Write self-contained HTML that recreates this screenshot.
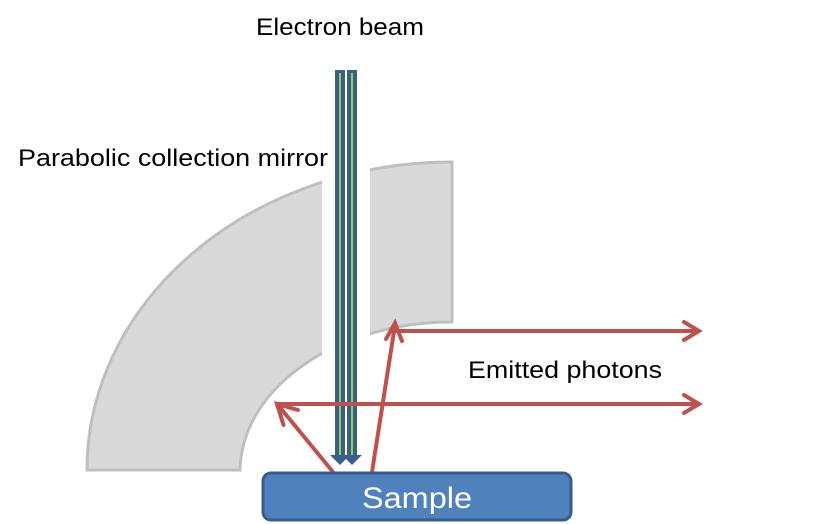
<!DOCTYPE html>
<html><head><meta charset="utf-8"><style>
body{margin:0;background:#fff}
svg{display:block}
text{font-family:"Liberation Sans",sans-serif}
</style></head><body>
<svg width="819" height="524" viewBox="0 0 819 524">
<defs>
<clipPath id="gap"><path d="M0 0H322V524H0Z M370 0H819V524H370Z"/></clipPath>
</defs>
<g clip-path="url(#gap)">
<path d="M87 470 A365 308 0 0 1 452 162 L452 322 A212 150 0 0 0 240 470 Z" fill="#d9d9d9" stroke="#bfbfbf" stroke-width="3"/>
</g>
<g>
<rect x="335" y="70" width="10" height="385" fill="#3b5f8c"/>
<rect x="347" y="70" width="10" height="385" fill="#3b5f8c"/>
<line x1="340" y1="73" x2="340" y2="455" stroke="#92d050" stroke-width="2"/>
<line x1="352" y1="73" x2="352" y2="455" stroke="#92d050" stroke-width="2"/>
<path d="M330 455 L350 455 L340 465 Z" fill="#3b5f8c"/>
<path d="M342 455 L362 455 L352 465 Z" fill="#3b5f8c"/>
</g>
<g stroke="#c0504d" stroke-width="4" fill="none" stroke-linecap="round" stroke-linejoin="miter">
<line x1="333" y1="472" x2="278" y2="405"/>
<path d="M283.5 425 L277 404 L298 410"/>
<line x1="278" y1="404" x2="698" y2="404"/>
<path d="M684 395 L699 404 L684 413"/>
<line x1="372" y1="472" x2="395" y2="325"/>
<path d="M386 339 L395 323 L402 341"/>
<line x1="396" y1="331" x2="698" y2="331"/>
<path d="M684 322 L699 331 L684 340"/>
</g>
<rect x="263" y="473" width="308" height="47" rx="8" fill="#4f81bd" stroke="#385d8a" stroke-width="3"/>
<text x="417" y="508" font-size="30" fill="#fff" text-anchor="middle" textLength="110" lengthAdjust="spacingAndGlyphs">Sample</text>
<text x="256" y="35" font-size="24" fill="#000" textLength="168" lengthAdjust="spacingAndGlyphs">Electron beam</text>
<text x="18" y="166" font-size="24" fill="#000" textLength="310" lengthAdjust="spacingAndGlyphs">Parabolic collection mirror</text>
<text x="468" y="378" font-size="24" fill="#000" textLength="194" lengthAdjust="spacingAndGlyphs">Emitted photons</text>
</svg>
</body></html>
